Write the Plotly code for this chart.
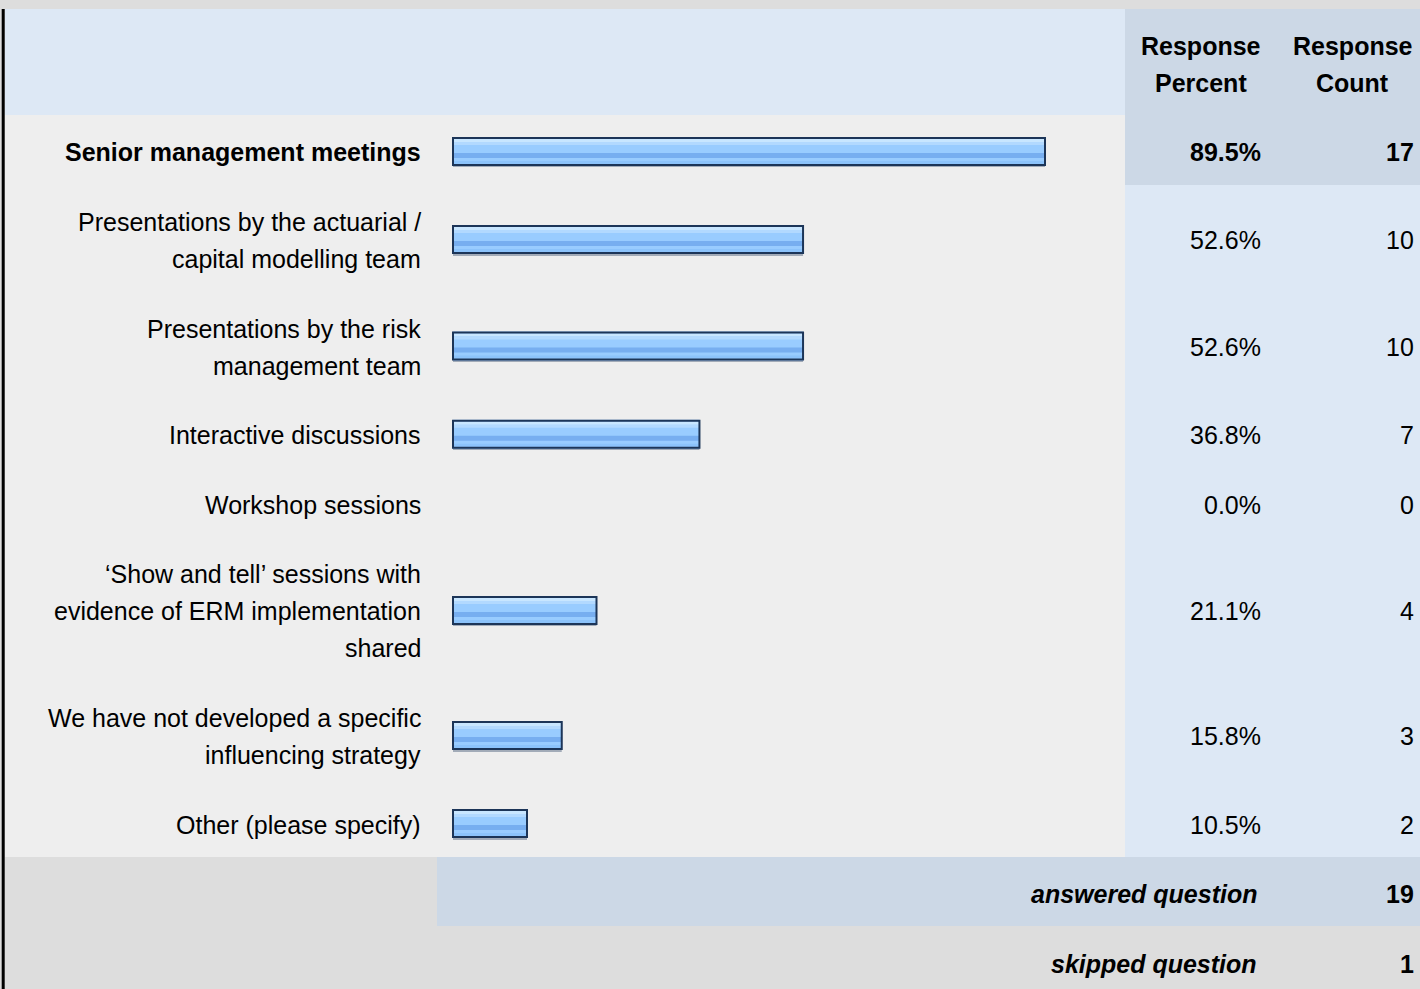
import plotly.graph_objects as go

# ---------------- data ----------------
categories = [
    "Senior management meetings",
    "Presentations by the actuarial /\ncapital modelling team",
    "Presentations by the risk\nmanagement team",
    "Interactive discussions",
    "Workshop sessions",
    "\u2018Show and tell\u2019 sessions with\nevidence of ERM implementation\nshared",
    "We have not developed a specific\ninfluencing strategy",
    "Other (please specify)",
]
response_percent = [89.5, 52.6, 52.6, 36.8, 0.0, 21.1, 15.8, 10.5]
response_count = [17, 10, 10, 7, 0, 4, 3, 2]
header_percent = ["Response", "Percent"]
header_count = ["Response", "Count"]
answered_label = "answered question"
answered_count = 19
skipped_label = "skipped question"
skipped_count = 1

# ---------------- layout constants ----------------
W, H = 1420, 989
TOP = 9
HEADER_BOTTOM = 115
ROW_PAD = 32.6
LINE_H = 37.0
LEFT_EDGE = 5
COL_SPLIT = 1125
FOOT_SPLIT = 437
ANCHOR_FIX = 3
LABEL_RIGHT = 420 + ANCHOR_FIX
PCT_RIGHT = 1260 + ANCHOR_FIX
CNT_RIGHT = 1413 + ANCHOR_FIX
FOOT_LABEL_RIGHT = 1256 + ANCHOR_FIX
PCT_CENTER = 1200.5
CNT_CENTER = 1352.5
TEXT_DY = 2.5
BAR_DY = 1.6

PX_PER_UNIT = 6.557          # pixels per percentage point
ZERO_PX = 458.15             # pixel position of 0 %
BAR_PAD = 5.15 / PX_PER_UNIT  # bar image border inset

FONT = "Liberation Sans, Arial, Helvetica, sans-serif"
FS = 25
TXT = "#000000"

C_GRAY = "#dddddd"
C_LIGHT = "#eeeeee"
C_BLUE = "#dde8f5"
C_BLUE2 = "#ccd8e6"

highlight = response_percent.index(max(response_percent))

# row geometry
row_lines = [len(c.split("\n")) for c in categories]
row_top = []
y = HEADER_BOTTOM
for n in row_lines:
    row_top.append(y)
    y += ROW_PAD + LINE_H * n
rows_bottom = y
row_center = [row_top[i] + (ROW_PAD + LINE_H * row_lines[i]) / 2 for i in range(len(categories))]
ans_top = rows_bottom
ans_bottom = ans_top + ROW_PAD + LINE_H
ans_center = (ans_top + ans_bottom) / 2
skip_center = ans_bottom + (ROW_PAD + LINE_H) / 2

def px(x):
    return x / W

shapes = []
def rect(x0, y0, x1, y1, color):
    shapes.append(dict(type="rect", xref="paper", yref="y", x0=px(x0), x1=px(x1),
                       y0=round(y0), y1=round(y1), fillcolor=color, line=dict(width=0),
                       layer="below"))

# header
rect(LEFT_EDGE, TOP, COL_SPLIT, HEADER_BOTTOM, C_BLUE)
rect(COL_SPLIT, TOP, W, HEADER_BOTTOM, C_BLUE2)
# body rows
rect(LEFT_EDGE, HEADER_BOTTOM, COL_SPLIT, rows_bottom, C_LIGHT)
rect(COL_SPLIT, HEADER_BOTTOM, W, rows_bottom, C_BLUE)
rect(COL_SPLIT, row_top[highlight],
     W, row_top[highlight] + ROW_PAD + LINE_H * row_lines[highlight], C_BLUE2)
# answered row
rect(FOOT_SPLIT, ans_top, W, ans_bottom, C_BLUE2)
# left border
rect(1.7, TOP, 4.7, H + 5, "#000000")

# ---------------- bars ----------------
bar_y = [c + BAR_DY for c in row_center]
bar_x = [p + BAR_PAD if p > 0 else None for p in response_percent]

bands = [
    # (offset, width, color)
    (14.5, 1.2, "#a2abb8"),   # shadow
    (-14.5, 29, "#99ccff"),   # base fill
    (-12.5, 3, "#c8e6ff"),
    (-9.5, 3, "#b2d9ff"),
    (1.5, 5, "#77aef0"),
    (9.5, 3, "#8cc3fb"),
]
fig = go.Figure()
for off, wd, col in bands:
    fig.add_trace(go.Bar(
        y=bar_y, x=bar_x, base=-BAR_PAD, orientation="h",
        width=wd, offset=off, marker=dict(color=col, line=dict(width=0)),
        hoverinfo="skip", showlegend=False,
    ))
fig.add_trace(go.Bar(
    y=bar_y, x=bar_x, base=-BAR_PAD, orientation="h",
    width=27, offset=-13.5,
    marker=dict(color="rgba(0,0,0,0)", line=dict(width=2, color="#1c3558")),
    hoverinfo="skip", showlegend=False,
))

# ---------------- text ----------------
ann = []
def text(x, y, s, anchor="right", bold=False, italic=False):
    if bold:
        s = "<b>" + s + "</b>"
    if italic:
        s = "<i>" + s + "</i>"
    ann.append(dict(xref="paper", yref="y", x=px(x), y=y, text=s, showarrow=False,
                    xanchor=anchor, yanchor="middle",
                    font=dict(family=FONT, size=FS, color=TXT)))

for j, s in enumerate(header_percent):
    text(PCT_CENTER, 45.5 + j * LINE_H, s, anchor="center", bold=True)
for j, s in enumerate(header_count):
    text(CNT_CENTER, 45.5 + j * LINE_H, s, anchor="center", bold=True)

for i, cat in enumerate(categories):
    lines = cat.split("\n")
    n = len(lines)
    b = i == highlight
    for j, ln in enumerate(lines):
        yy = row_center[i] + (j - (n - 1) / 2) * LINE_H + TEXT_DY
        text(LABEL_RIGHT, yy, ln, bold=b)
    text(PCT_RIGHT, row_center[i] + TEXT_DY, f"{response_percent[i]:.1f}%", bold=b)
    text(CNT_RIGHT, row_center[i] + TEXT_DY, str(response_count[i]), bold=b)

text(FOOT_LABEL_RIGHT, ans_center + TEXT_DY, answered_label, bold=True, italic=True)
text(CNT_RIGHT, ans_center + TEXT_DY, str(answered_count), bold=True)
text(FOOT_LABEL_RIGHT, skip_center + TEXT_DY, skipped_label, bold=True, italic=True)
text(CNT_RIGHT, skip_center + TEXT_DY, str(skipped_count), bold=True)

x0 = -ZERO_PX / PX_PER_UNIT
x1 = (W - ZERO_PX) / PX_PER_UNIT

fig.update_layout(
    width=W, height=H,
    margin=dict(l=0, r=0, t=0, b=0, pad=0),
    paper_bgcolor=C_GRAY, plot_bgcolor=C_GRAY,
    barmode="overlay",
    showlegend=False,
    xaxis=dict(range=[x0, x1], visible=False, fixedrange=True, domain=[0, 1]),
    yaxis=dict(range=[H, 0], visible=False, fixedrange=True, domain=[0, 1]),
    shapes=shapes,
    annotations=ann,
)

fig.write_html("out.html", config={"displayModeBar": False})
